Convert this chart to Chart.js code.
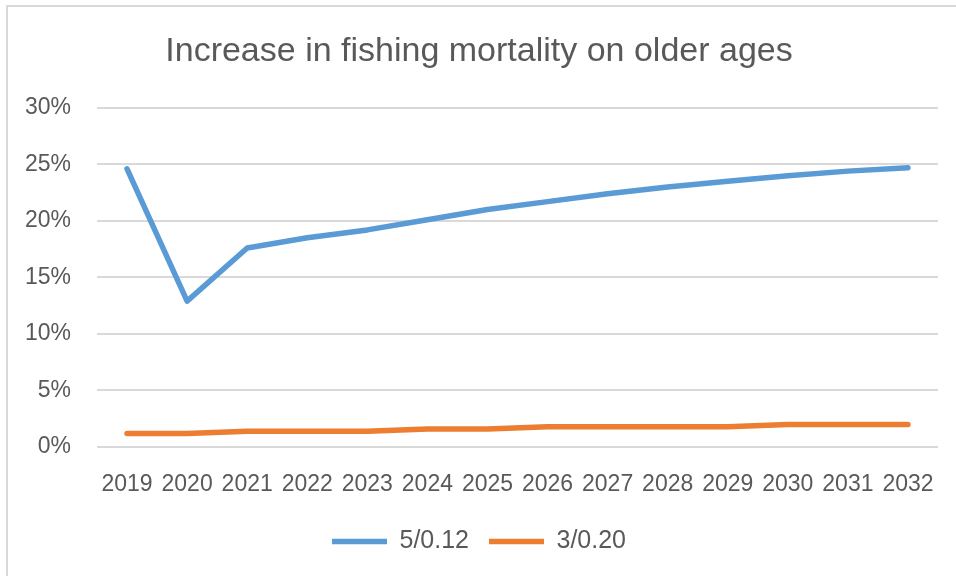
<!DOCTYPE html>
<html>
<head>
<meta charset="utf-8">
<title>Increase in fishing mortality on older ages</title>
<script src="https://cdn.jsdelivr.net/npm/chart.js@4/dist/chart.umd.min.js"></script>
<style>
  html, body { margin: 0; padding: 0; background: #fff; }
  #wrap { width: 956px; height: 576px; }
</style>
</head>
<body>
<div id="wrap"><canvas id="chart" width="956" height="576"></canvas></div>
<script>
const years = ['2019', '2020', '2021', '2022', '2023', '2024', '2025', '2026', '2027', '2028', '2029', '2030', '2031', '2032'];
const series512 = [24.6, 12.9, 17.6, 18.5, 19.2, 20.1, 21.0, 21.7, 22.4, 23.0, 23.5, 24.0, 24.4, 24.7];
const series320 = [1.2, 1.2, 1.4, 1.4, 1.4, 1.6, 1.6, 1.8, 1.8, 1.8, 1.8, 2.0, 2.0, 2.0];
const yTicks = [0, 5, 10, 15, 20, 25, 30];

const textColor = '#595959';
const gridColor = '#D9D9D9';
const fontFamily = '"Liberation Sans", Arial, sans-serif';

// white background plus the light frame on the top and left edges
const framePlugin = {
  id: 'frame',
  beforeDraw(chart) {
    const ctx = chart.ctx;
    ctx.save();
    ctx.fillStyle = '#fff';
    ctx.fillRect(0, 0, chart.width, chart.height);
    ctx.strokeStyle = gridColor;
    ctx.lineWidth = 2;
    ctx.beginPath();
    ctx.moveTo(7, chart.height);
    ctx.lineTo(7, 6);
    ctx.lineTo(chart.width, 6);
    ctx.stroke();
    ctx.restore();
  }
};

new Chart(document.getElementById('chart'), {
  type: 'line',
  data: {
    labels: years,
    datasets: [
      {
        label: '5/0.12',
        data: series512,
        borderColor: '#5B9BD5',
        backgroundColor: '#5B9BD5',
        borderWidth: 5.5,
        borderCapStyle: 'round',
        borderJoinStyle: 'round',
        pointRadius: 0,
        tension: 0,
        fill: false
      },
      {
        label: '3/0.20',
        data: series320,
        borderColor: '#ED7D31',
        backgroundColor: '#ED7D31',
        borderWidth: 5.5,
        borderCapStyle: 'round',
        borderJoinStyle: 'round',
        pointRadius: 0,
        tension: 0,
        fill: false
      }
    ]
  },
  options: {
    responsive: false,
    animation: false,
    devicePixelRatio: 1,
    layout: { padding: { left: 20, right: 18, top: 0, bottom: 12 } },
    plugins: {
      title: {
        display: true,
        text: 'Increase in fishing mortality on older ages',
        color: textColor,
        font: { family: fontFamily, size: 34, weight: 'normal' },
        padding: { top: 31, bottom: 36 }
      },
      legend: {
        position: 'bottom',
        labels: {
          color: textColor,
          font: { family: fontFamily, size: 25 },
          usePointStyle: true,
          pointStyle: 'line',
          pointStyleWidth: 55,
          padding: 20
        }
      },
      tooltip: { enabled: false }
    },
    scales: {
      x: {
        offset: true,
        grid: { display: false },
        border: { display: false },
        ticks: {
          color: textColor,
          font: { family: fontFamily, size: 23 },
          padding: 16,
          maxRotation: 0,
          autoSkip: false
        },
        afterFit(scale) { scale.height = 62; }
      },
      y: {
        min: yTicks[0],
        max: yTicks[yTicks.length - 1],
        grid: { color: gridColor, lineWidth: 2, drawTicks: false },
        border: { display: false },
        ticks: {
          stepSize: yTicks[1] - yTicks[0],
          color: textColor,
          font: { family: fontFamily, size: 23 },
          padding: 26,
          callback: v => v + '%'
        },
        afterFit(scale) { scale.width = 77; }
      }
    }
  },
  plugins: [framePlugin]
});
</script>
</body>
</html>
